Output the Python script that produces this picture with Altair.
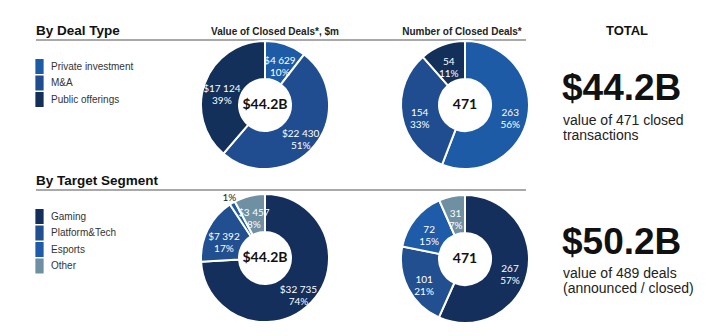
import altair as alt
import pandas as pd

# ---- data ----
deal_types = ["Private investment", "M&A", "Public offerings"]
deal_value = [4629, 22430, 17124]
deal_value_pct = [10, 51, 39]
deal_count = [263, 154, 54]
deal_count_pct = [56, 33, 11]

segments = ["Gaming", "Platform&Tech", "Esports", "Other"]
seg_value = [32735, 7392, 616, 3457]
seg_value_pct = [74, 17, 1, 8]
seg_count = [267, 101, 72, 31]
seg_count_pct = [57, 21, 15, 7]

center_value = "$44.2B"
center_count = "471"

# ---- style ----
deal_colors = ["#1d5ba6", "#1f4d8f", "#13305a"]
seg_colors = ["#142f5b", "#224f90", "#1e5ba8", "#6f8fa2"]
HEAD = "Liberation Sans"
PIE_FONT = "Lato"
R_OUT, R_IN = 64, 26


def txt(s, x, y, size, weight="normal", align="left", color="#111", font=HEAD):
    return alt.Chart(pd.DataFrame({"t": [s]})).mark_text(
        align=align, baseline="alphabetic", fontSize=size, fontWeight=weight,
        font=font, color=color
    ).encode(x=alt.value(x), y=alt.value(y), text="t:N")


def rule(x1, x2, y):
    return alt.Chart(pd.DataFrame({"a": [0]})).mark_rule(
        color="#8c8c8c", strokeWidth=1.5
    ).encode(x=alt.value(x1), x2=alt.value(x2), y=alt.value(y))


def legend_at(y):
    return alt.Legend(
        orient="none", legendX=32, legendY=y, title=None,
        symbolType="M-0.55,-1L0.55,-1L0.55,1L-0.55,1Z", symbolSize=225,
        symbolStrokeWidth=0, symbolOpacity=1,
        labelFont=HEAD, labelFontSize=10, labelColor="#333",
        labelOffset=4, rowPadding=1.5, padding=0,
    )


def donut(cats, vals, pcts, money, cx, cy, colors, center, legend=None):
    labels = [
        (("$" + f"{v:,}".replace(",", " ")) if money else str(v)) + "\n" + f"{p}%"
        for v, p in zip(vals, pcts)
    ]
    df = pd.DataFrame({
        "cat": cats, "value": vals, "pct": pcts, "label": labels,
        "idx": list(range(len(cats))),
    })
    base = alt.Chart(df).encode(
        theta=alt.Theta("value:Q", stack=True),
        order=alt.Order("idx:Q"),
        x=alt.value(cx), y=alt.value(cy),
    )
    arc = base.mark_arc(
        radius=R_OUT, innerRadius=R_IN, stroke="white", strokeWidth=2
    ).encode(
        color=alt.Color("cat:N", scale=alt.Scale(domain=cats, range=colors),
                        legend=legend)
    )
    inner = base.transform_calculate(
        t="datum.pct >= 2 ? datum.label : ''"
    ).mark_text(
        radius=46, lineBreak="\n", font=PIE_FONT, fontSize=10, color="white",
        lineHeight=12, align="center", baseline="middle"
    ).encode(text="t:N")
    outer = base.transform_calculate(
        t="datum.pct < 2 ? datum.pct + '%' : ''"
    ).mark_text(
        radius=70, font=PIE_FONT, fontSize=10, color="#222",
        align="center", baseline="middle"
    ).encode(text="t:N")
    ctr = alt.Chart(pd.DataFrame({"t": [center]})).mark_text(
        font=PIE_FONT, fontSize=14, fontWeight="bold", color="#111",
        align="center", baseline="middle"
    ).encode(x=alt.value(cx), y=alt.value(cy), text="t:N")
    return [arc, inner, outer, ctr]


layers = [
    rule(36, 526, 40),
    rule(36, 526, 190),
    txt("By Deal Type", 36, 35, 13.5, "bold"),
    txt("By Target Segment", 36, 185, 13.5, "bold"),
    txt("Value of Closed Deals*, $m", 275, 35, 10, "bold", "center", "#222"),
    txt("Number of Closed Deals*", 462, 35, 10, "bold", "center", "#222"),
    txt("TOTAL", 627, 35, 13, "bold", "center", "#111"),
    txt("$44.2B", 562, 100, 37, "bold"),
    txt("value of 471 closed", 563, 125, 14, "normal", "left", "#222"),
    txt("transactions", 563, 140, 14, "normal", "left", "#222"),
    txt("$50.2B", 562, 254, 37, "bold"),
    txt("value of 489 deals", 563, 278, 14, "normal", "left", "#222"),
    txt("(announced / closed)", 563, 293, 14, "normal", "left", "#222"),
]
layers += donut(deal_types, deal_value, deal_value_pct, True, 265, 105,
                deal_colors, center_value, legend_at(59))
layers += donut(deal_types, deal_count, deal_count_pct, False, 465, 105,
                deal_colors, center_count, None)
layers += donut(segments, seg_value, seg_value_pct, True, 265, 258,
                seg_colors, center_value, legend_at(209))
layers += donut(segments, seg_count, seg_count_pct, False, 465, 259,
                seg_colors, center_count, None)

chart = alt.layer(*layers).resolve_scale(
    theta="independent", color="independent"
).properties(
    width=725, height=336,
    autosize=alt.AutoSizeParams(type="none"),
    padding=0,
).configure_view(stroke=None)

chart.save("out.html", embed_options={"renderer": "svg", "actions": False})
